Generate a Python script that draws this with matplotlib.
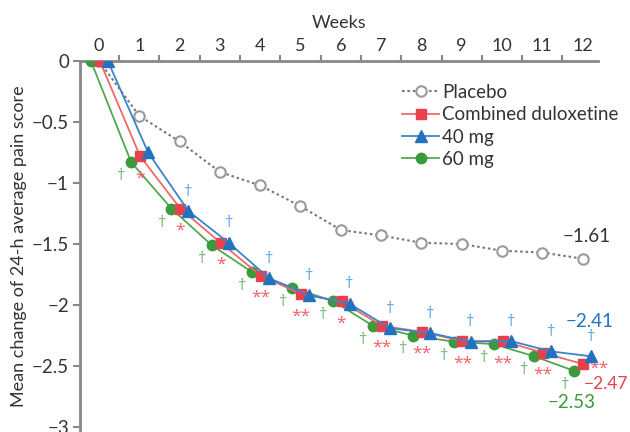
import matplotlib.pyplot as plt
from matplotlib.ticker import FixedLocator, FuncFormatter

plt.rcParams['font.family'] = ['Lato', 'DejaVu Sans']

# Data
weeks = [0, 1, 2, 3, 4, 5, 6, 7, 8, 9, 10, 11, 12]
placebo = [0, -0.45, -0.66, -0.91, -1.02, -1.19, -1.385, -1.43, -1.49, -1.50, -1.555, -1.57, -1.62]
combined = [0, -0.78, -1.21, -1.49, -1.76, -1.91, -1.97, -2.17, -2.22, -2.295, -2.295, -2.39, -2.485]
mg40 = [0, -0.75, -1.23, -1.49, -1.78, -1.92, -1.99, -2.19, -2.23, -2.30, -2.295, -2.38, -2.42]
mg60 = [0, -0.83, -1.21, -1.51, -1.73, -1.86, -1.965, -2.17, -2.25, -2.30, -2.32, -2.42, -2.54]

# significance marks per week
red_marks = ['', '*', '*', '*', '**', '**', '*', '**', '**', '**', '**', '**', '**']
blue_marks = ['', '', '†', '†', '†', '†', '†', '†', '†', '†', '†', '†', '†']
green_marks = ['', '†', '†', '†', '†', '†', '†', '†', '†', '†', '†', '†', '†']

end_labels = {'placebo': '−1.61', 'combined': '−2.47', 'mg40': '−2.41', 'mg60': '−2.53'}

c_gray = '#9a9a9a'
c_red = '#e8414e'
c_blue = '#2372c2'
c_green = '#3a9a3c'
mark_font = ['Open Sans', 'DejaVu Sans']

fig = plt.figure(figsize=(6.3, 4.32), dpi=100)
ax = fig.add_axes([0.127, 0.0, 0.822, 0.859])

ax.plot(weeks, placebo, linestyle=(0, (1.2, 1.4)), color='#777777', lw=1.5,
        marker='o', ms=7.5, mfc='white', mec=c_gray, mew=1.5, label='Placebo', zorder=2)
g_x = [w - 0.2 for w in weeks]
r_x = [w + 0.02 for w in weeks]
b_x = [w + 0.22 for w in weeks]
ax.plot(g_x, mg60, color='#52a852', lw=1.3, marker='o', ms=7.5, mfc=c_green, mec=c_green,
        label='60 mg', zorder=3)
ax.plot(r_x, combined, color='#ee6a6a', lw=1.3, marker='s', ms=7.5, mfc=c_red, mec=c_red,
        label='Combined duloxetine', zorder=4)
ax.plot(b_x, mg40, color='#3a84cc', lw=1.3, marker='^', ms=8.5, mfc=c_blue, mec=c_blue,
        label='40 mg', zorder=5)

# significance annotations
for i in range(len(weeks)):
    if green_marks[i]:
        ax.annotate(green_marks[i], (g_x[i], mg60[i]), xytext=(-7, -10), textcoords='offset points',
                    ha='center', va='center', color='#6db56d', fontsize=12, family=mark_font)
    if blue_marks[i]:
        ax.annotate(blue_marks[i], (b_x[i], mg40[i]), xytext=(0, 14), textcoords='offset points',
                    ha='center', va='center', color='#5aa2dc', fontsize=12, family=mark_font)
    if red_marks[i] and i < len(weeks) - 1:
        ax.annotate(red_marks[i], (r_x[i], combined[i]), xytext=(0, -16), textcoords='offset points',
                    ha='center', va='center', color='#f0606a', fontsize=12.5, family=mark_font)
ax.annotate(red_marks[-1], (r_x[-1], combined[-1]), xytext=(11, -3), textcoords='offset points',
            ha='center', va='center', color='#f0606a', fontsize=12.5, family=mark_font)

# end value labels
ax.annotate(end_labels['placebo'], (weeks[-1], placebo[-1]), xytext=(3, 16), textcoords='offset points',
            ha='center', va='center', color='#333333', fontsize=13.5)
ax.annotate(end_labels['mg40'], (b_x[-1], mg40[-1]), xytext=(-1.5, 25), textcoords='offset points',
            ha='center', va='center', color=c_blue, fontsize=13.5)
ax.annotate(end_labels['combined'], (r_x[-1], combined[-1]), xytext=(0, -14), textcoords='offset points',
            ha='left', va='center', color=c_red, fontsize=12.5)
ax.annotate(end_labels['mg60'], (g_x[-1], mg60[-1]), xytext=(-2, -23), textcoords='offset points',
            ha='center', va='center', color=c_green, fontsize=13.5)

ax.set_xlim(-0.47, 12.38)
ax.set_ylim(-3.04, 0)

ax.xaxis.tick_top()
ax.xaxis.set_label_position('top')
ax.set_xticks(weeks)
ax.xaxis.set_minor_locator(FixedLocator([w + 0.5 for w in weeks[:-1]]))
ax.tick_params(axis='x', which='major', length=0, pad=5, labelsize=13, colors='#333333')
ax.tick_params(axis='x', which='minor', length=4, width=1.5, color='#888888', direction='out')
ax.set_xlabel('Weeks', fontsize=13, color='#333333', labelpad=7)

ax.set_yticks([0, -0.5, -1, -1.5, -2, -2.5, -3])
ax.yaxis.set_major_formatter(FuncFormatter(lambda v, p: ('%g' % v).replace('-', '−')))
ax.tick_params(axis='y', length=5, width=1.5, color='#888888', labelsize=13.5, labelcolor='#333333', pad=3)
ax.set_ylabel('Mean change of 24-h average pain score', fontsize=13, color='#333333', labelpad=3)

for s in ['right', 'bottom']:
    ax.spines[s].set_visible(False)
for s in ['left', 'top']:
    ax.spines[s].set_color('#888888')
    ax.spines[s].set_linewidth(2)

handles, labels = ax.get_legend_handles_labels()
order = [0, 2, 3, 1]
ax.legend([handles[i] for i in order], [labels[i] for i in order], loc='upper left',
          bbox_to_anchor=(402 / 630, 1 - 84 / 432), bbox_transform=fig.transFigure,
          frameon=False, fontsize=13.5, handlelength=2.0, handletextpad=0.15,
          labelspacing=0.28, borderpad=0, borderaxespad=0, labelcolor='#333333')

fig.savefig('out.png', dpi=100)
